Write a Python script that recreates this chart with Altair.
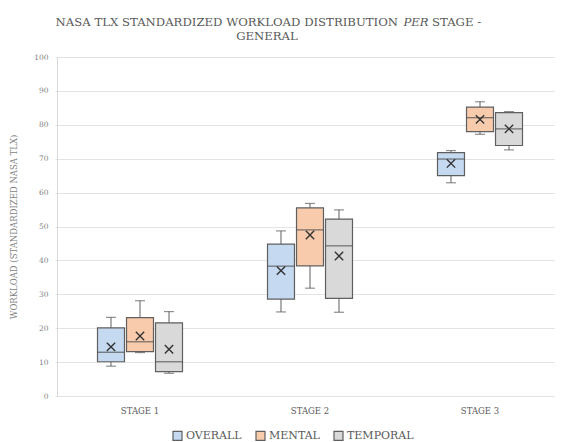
import altair as alt
import pandas as pd

stages = ["STAGE 1", "STAGE 2", "STAGE 3"]
series = ["OVERALL", "MENTAL", "TEMPORAL"]
colors = ["#c5d9f1", "#f8cbad", "#d9d9d9"]

# per series, values for STAGE 1..3
whisker_low = {"OVERALL": [8.8, 24.8, 62.9], "MENTAL": [12.8, 31.8, 77.2], "TEMPORAL": [6.7, 24.7, 72.6]}
q1 = {"OVERALL": [10.1, 28.6, 65.0], "MENTAL": [13.1, 38.4, 78.0], "TEMPORAL": [7.2, 28.8, 73.9]}
median = {"OVERALL": [12.9, 38.3, 69.9], "MENTAL": [16.0, 49.0, 82.1], "TEMPORAL": [10.1, 44.3, 78.8]}
q3 = {"OVERALL": [20.1, 44.8, 71.8], "MENTAL": [23.1, 55.5, 85.2], "TEMPORAL": [21.6, 52.2, 83.6]}
whisker_high = {"OVERALL": [23.2, 48.7, 72.4], "MENTAL": [28.1, 56.8, 86.8], "TEMPORAL": [24.9, 54.9, 83.9]}
mean = {"OVERALL": [14.5, 37.0, 68.6], "MENTAL": [17.7, 47.5, 81.6], "TEMPORAL": [13.8, 41.3, 78.8]}
y_ticks = [0, 10, 20, 30, 40, 50, 60, 70, 80, 90, 100]

title_part1 = "NASA TLX STANDARDIZED  WORKLOAD DISTRIBUTION"
title_part2 = "PER"
title_part3 = "STAGE -"
title_line2 = "GENERAL"
y_title = "WORKLOAD (STANDARDIZED NASA TLX)"

rows = []
for s in series:
    for i, st in enumerate(stages):
        rows.append(dict(stage=st, series=s, lo=whisker_low[s][i], q1=q1[s][i], med=median[s][i],
                         q3=q3[s][i], hi=whisker_high[s][i], mean=mean[s][i]))
df = pd.DataFrame(rows)

FONT = "DejaVu Serif"
TXT = "#595959"
EDGE = "#5f5f5f"
TFS = 11.7

x_enc = alt.X("stage:N", sort=stages, title=None,
              scale=alt.Scale(range=[-2, 508], paddingInner=0, paddingOuter=0),
              axis=alt.Axis(labelAngle=0, domain=False, ticks=False, labelPadding=10,
                            labelFont=FONT, labelFontSize=8.5, labelColor=TXT))
xo_enc = alt.XOffset("series:N", sort=series,
                     scale=alt.Scale(range=[42.5, 127.5], paddingInner=0.07, paddingOuter=0))
y_scale = alt.Scale(domain=[0, 100], nice=False)
y_axis = alt.Axis(title=y_title, values=y_ticks, ticks=False, labelOverlap=False,
                  domainColor="#d9d9d9", gridColor="#e3e3e3", labelFont=FONT,
                  labelFontSize=7.5, labelColor="#7f7f7f", labelPadding=9,
                  titleFont=FONT, titleFontSize=8.5, titleFontWeight="normal",
                  titleColor="#7f7f7f", titlePadding=15)


def yq(field):
    return alt.Y(field, type="quantitative", scale=y_scale, axis=y_axis)


base = alt.Chart(df)

whiskers = base.mark_rule(color=EDGE, strokeWidth=1).encode(
    x=x_enc, xOffset=xo_enc, y=yq("lo"), y2="hi:Q")

boxes = base.mark_bar(stroke=EDGE, strokeWidth=1.2).encode(
    x=x_enc, xOffset=xo_enc, y=yq("q1"), y2="q3:Q",
    color=alt.Color("series:N", sort=series, scale=alt.Scale(domain=series, range=colors),
                    legend=alt.Legend(title=None, orient="none", direction="horizontal",
                                      legendX=115, legendY=373, symbolType="square",
                                      symbolSize=81, symbolStrokeColor=EDGE,
                                      symbolStrokeWidth=1.2, labelFont=FONT, labelFontSize=11,
                                      labelColor=TXT, columnPadding=11, labelOffset=3)))

caps_lo = base.mark_tick(color=EDGE, size=10, thickness=1.2).encode(
    x=x_enc, xOffset=xo_enc, y=yq("lo"))
caps_hi = base.mark_tick(color=EDGE, size=10, thickness=1.2).encode(
    x=x_enc, xOffset=xo_enc, y=yq("hi"))
medians = base.mark_tick(color="#4a4a4a", size=27, thickness=1.3).encode(
    x=x_enc, xOffset=xo_enc, y=yq("med"))
means = base.mark_point(shape="M-1,-1L1,1M-1,1L1,-1", filled=False, color="#333333",
                        size=70, strokeWidth=1.4, opacity=1).encode(
    x=x_enc, xOffset=xo_enc, y=yq("mean"))

t1 = alt.Chart(pd.DataFrame({"t": [title_part1]})).mark_text(
    font=FONT, fontSize=TFS, color=TXT, align="right", baseline="middle").encode(
    text="t:N", x=alt.value(341), y=alt.value(-35))
t2 = alt.Chart(pd.DataFrame({"t": [title_part2]})).mark_text(
    font=FONT, fontSize=TFS, color=TXT, align="center", baseline="middle", fontStyle="italic").encode(
    text="t:N", x=alt.value(359), y=alt.value(-35))
t3 = alt.Chart(pd.DataFrame({"t": [title_part3]})).mark_text(
    font=FONT, fontSize=TFS, color=TXT, align="left", baseline="middle").encode(
    text="t:N", x=alt.value(375), y=alt.value(-35))
t4 = alt.Chart(pd.DataFrame({"t": [title_line2]})).mark_text(
    font=FONT, fontSize=TFS, color=TXT, align="center", baseline="middle").encode(
    text="t:N", x=alt.value(210), y=alt.value(-21))

chart = alt.layer(whiskers, caps_lo, caps_hi, boxes, medians, means, t1, t2, t3, t4).properties(
    width=498, height=339,
    autosize=alt.AutoSizeParams(type="none"),
    padding={"left": 49, "top": 49, "right": 0, "bottom": 46},
).configure_view(stroke=None).configure(background="white")

chart.save("out.html", embed_options={"renderer": "svg", "actions": False})
